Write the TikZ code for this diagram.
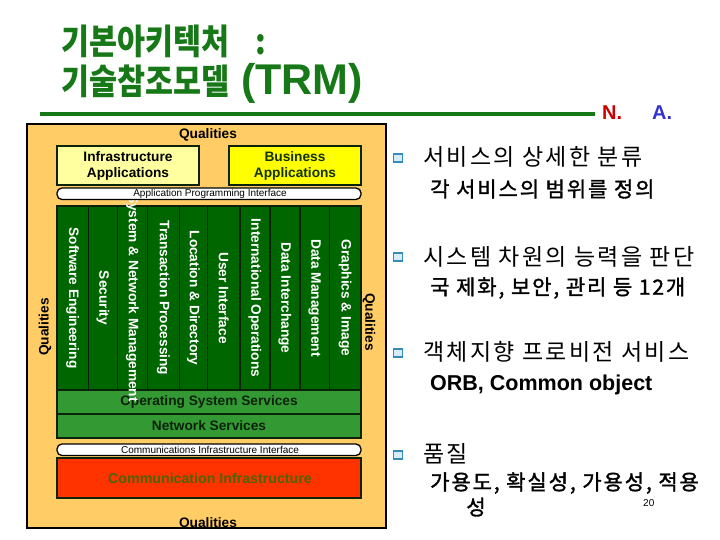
\documentclass[tikz,border=0pt]{standalone}
\usepackage{fontspec}
\setmainfont{Liberation Sans}
\newfontfamily\kr{Noto Sans CJK KR}[LetterSpace=10]
\newfontfamily\krsemi{Noto Sans CJK KR}[LetterSpace=9, FakeBold=1.5]
\newfontfamily\krtitle{Noto Sans CJK KR}[FakeStretch=0.87]
\definecolor{ttlgreen}{RGB}{22,120,22}
\definecolor{boxorange}{RGB}{255,204,102}
\definecolor{colgreen}{RGB}{0,102,0}
\definecolor{osgreen}{RGB}{51,153,51}
\definecolor{linedark}{RGB}{10,35,10}
\definecolor{cired}{RGB}{255,51,0}
\definecolor{citext}{RGB}{75,100,0}
\definecolor{infray}{RGB}{255,255,160}
\definecolor{bizy}{RGB}{255,255,0}
\definecolor{biztext}{RGB}{20,50,0}
\definecolor{nared}{RGB}{204,0,0}
\definecolor{nablue}{RGB}{51,51,204}
\definecolor{bulletblue}{RGB}{50,140,190}
\definecolor{bulletfill}{RGB}{215,235,248}
\tikzset{
  lbl/.style={font=\bfseries\fontsize{13.7}{16}\selectfont, inner sep=0pt, align=center},
  coltext/.style={lbl, rotate=-90, text=white},
  small/.style={font=\fontsize{10}{12}\selectfont, inner sep=0pt},
  lvlone/.style={font=\kr\fontsize{23}{27}\selectfont, anchor=west, inner sep=0pt},
  lvltwo/.style={font=\krsemi\fontsize{21}{25}\selectfont, anchor=west, inner sep=0pt},
  bulletsq/.style={draw=bulletblue, fill=bulletfill, line width=1.6pt, minimum width=9pt, minimum height=8pt, inner sep=0pt},
  ttl/.style={text=ttlgreen, anchor=west, inner sep=0pt},
  layerbox/.style={draw=linedark, line width=1.5pt}
}
\begin{document}
\begin{tikzpicture}[x=1pt,y=-1pt]
\useasboundingbox (0,0) rectangle (720,540);
% title
\node[ttl, font=\krtitle\bfseries\fontsize{35}{40}\selectfont] (t1) at (61,41) {기본아키텍처\hspace{26pt}:};
\node[ttl] (t2) at (61,83) {{\krtitle\bfseries\fontsize{35}{40}\selectfont 기술참조모델}\hspace{12pt}{\bfseries\fontsize{43}{48}\selectfont (TRM)}};
\coordinate (lnA) at (40,114);
\coordinate (lnB) at (595,114);
\draw[ttlgreen, line width=3.5pt] (lnA) -- (lnB);
\node[font=\bfseries\fontsize{20}{24}\selectfont, text=nared, inner sep=0pt, anchor=west] (nn) at (602,113) {N.};
\node[font=\bfseries\fontsize{20}{24}\selectfont, text=nablue, inner sep=0pt, anchor=west] (aa) at (652,113) {A.};
% orange frame
\fill[boxorange] (27,124) rectangle (386,528);
\begin{scope}
\clip (27,124) rectangle (386,528);
\node[lbl] (qb) at (208,524) {Qualities};
\end{scope}
\node[lbl] (qt) at (208,135) {Qualities};
\node[lbl, rotate=90] (ql) at (45,327) {Qualities};
\node[lbl, rotate=-90] (qr) at (369,322) {Qualities};
% applications
\draw[layerbox, fill=infray] (57,146) rectangle (199,185);
\node[lbl] (infra) at (128,165.5) {Infrastructure\\Applications};
\draw[layerbox, fill=bizy] (229,146) rectangle (361,185);
\node[lbl, text=biztext] (biz) at (295,165.5) {Business\\Applications};
% columns
\fill[colgreen] (57,206) rectangle (361,390);
\foreach \dx in {88.3,117.3,147.7,179.3,207.3,240,270,300,329.3}
  \draw[linedark, line width=1.4pt] (\dx,206) -- (\dx,390);
\draw[layerbox] (57,206) rectangle (361,390);
% OS and network
\draw[layerbox, fill=osgreen] (57,390) rectangle (361,414);
\node[lbl, text=linedark] (os) at (209,402) {Operating System Services};
\draw[layerbox, fill=osgreen] (57,414) rectangle (361,438);
\node[lbl, text=linedark] (net) at (209,426) {Network Services};
% column labels
\foreach \cx/\txt [count=\i] in {72.7/{Software Engineering}, 102.8/Security, 132.5/{System \& Network Management}, 163.5/{Transaction Processing}, 193.3/{Location \& Directory}, 223.7/{User Interface}, 255/{International Operations}, 285/{Data Interchange}, 314.7/{Data Management}, 345.2/{Graphics \& Image}}
  \node[coltext] (col\i) at (\cx,298) {\txt};
% API
\draw[black, line width=1.3pt, fill=white, rounded corners=5pt] (57,188) rectangle (361,199.5);
\node[small] (api) at (210,194) {Application Programming Interface};
% CII
\draw[black, line width=1.3pt, fill=white, rounded corners=5pt] (57,444) rectangle (361,455.5);
\node[small] (cii) at (210,450) {Communications Infrastructure Interface};
\draw[layerbox, fill=cired] (57,458) rectangle (361,498);
\node[lbl, text=citext, font=\bfseries\fontsize{14.2}{16}\selectfont] (ci) at (210,478) {Communication Infrastructure};
% frame border
\draw[black, line width=2.2pt] (27,124) rectangle (386,528);
% right text
\node[bulletsq] (b1) at (398,158) {};
\node[lvlone] (r1) at (423,157) {서비스의 상세한 분류};
\node[lvltwo] (r1s) at (430,189) {각 서비스의 범위를 정의};
\node[bulletsq] (b2) at (398,257) {};
\node[lvlone] (r2) at (423,257) {시스템 차원의 능력을 판단};
\node[lvltwo] (r2s) at (430,288) {국 제화, 보안, 관리 등 12개};
\node[bulletsq] (b3) at (398,353) {};
\node[lvlone] (r3) at (423,352) {객체지향 프로비전 서비스};
\node[lvltwo, font=\bfseries\fontsize{21.5}{25}\selectfont] (r3s) at (430,385) {ORB, Common object};
\node[bulletsq] (b4) at (398,455) {};
\node[lvlone] (r4) at (423,454) {품질};
\node[lvltwo] (r4s) at (430,483) {가용도, 확실성, 가용성, 적용};
\node[lvltwo, anchor=center] (r4t) at (476,507) {성};
\node[small, anchor=west] (pg) at (643,503) {20};
\end{tikzpicture}
\end{document}
